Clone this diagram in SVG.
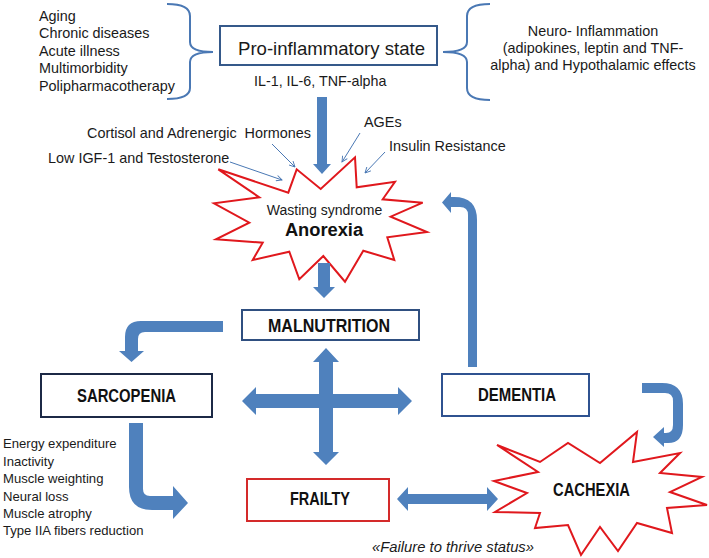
<svg xmlns="http://www.w3.org/2000/svg" width="709" height="558" viewBox="0 0 709 558">
<style>
.t{font-family:"Liberation Sans",Arial,sans-serif;fill:#1a1a1a}
.b{font-family:"Liberation Sans",Arial,sans-serif;font-weight:bold;fill:#111}
.box{fill:#fff;stroke-width:2}
.star{fill:#fff;stroke:#e0181d;stroke-width:2;stroke-linejoin:miter}
.fat{fill:#4f81bd}
.thin{fill:none;stroke:#4a78b4;stroke-width:1}
.brace{fill:none;stroke:#4a78b4;stroke-width:2}
</style>
<defs>
<marker id="ah" viewBox="0 0 10 10" refX="9" refY="5" markerWidth="7" markerHeight="7" orient="auto">
<path d="M1,1 L9,5 L1,9" fill="none" stroke="#4a78b4" stroke-width="1.3"/>
</marker>
</defs>
<rect width="709" height="558" fill="#fff"/>

<g id="causes">
<text class="t" font-size="14.4" x="39" y="20.5">Aging</text>
<text class="t" font-size="14.4" x="39" y="38">Chronic diseases</text>
<text class="t" font-size="14.4" x="39" y="55.5">Acute illness</text>
<text class="t" font-size="14.4" x="39" y="73">Multimorbidity</text>
<text class="t" font-size="14.4" x="39" y="90.5">Polipharmacotherapy</text>
</g>

<g id="pro-inflammatory">
<rect class="box" x="220" y="26" width="217" height="39" stroke="#35598a"/>
<text class="t" font-size="18.6" x="331.5" y="55" text-anchor="middle">Pro-inflammatory state</text>
<text class="t" font-size="14.3" x="254" y="86">IL-1, IL-6, TNF-alpha</text>
</g>

<g id="neuro">
<text class="t" font-size="14.4" x="593" y="35.5" text-anchor="middle">Neuro- Inflammation</text>
<text class="t" font-size="14.4" x="593" y="52.5" text-anchor="middle">(adipokines, leptin and TNF-</text>
<text class="t" font-size="14.4" x="593" y="69.5" text-anchor="middle">alpha) and Hypothalamic effects</text>
</g>

<g id="factors">
<text class="t" font-size="14.4" x="87" y="138" xml:space="preserve">Cortisol and Adrenergic  Hormones</text>
<text class="t" font-size="14.4" x="48" y="163">Low IGF-1 and Testosterone</text>
<text class="t" font-size="14.4" x="364" y="127">AGEs</text>
<text class="t" font-size="14.4" x="389" y="151">Insulin Resistance</text>
</g>

<g id="anorexia">
<polygon class="star" points="218.3,169.3 288.3,192.7 296.7,169.3 320.7,189 355,157.3 356.7,187.3 395,181.7 382.7,199.3 422.7,202.7 390.7,216.7 427,232 387.3,237.3 394.3,260 363.3,250.7 345,281.7 323.3,256 299.3,279.3 289.3,251.7 252.7,260 262.7,242.7 216,239.3 249.3,222.7 214,203.3 259.3,197.3"/>
<text class="t" font-size="14" x="324.5" y="215" text-anchor="middle">Wasting syndrome</text>
<text class="b" font-size="18.3" x="324" y="236" text-anchor="middle">Anorexia</text>
</g>

<g id="malnutrition">
<rect class="box" x="242" y="310" width="177" height="30" stroke="#2f4f80"/>
<text class="b" font-size="18" x="268" y="332" textLength="122" lengthAdjust="spacingAndGlyphs">MALNUTRITION</text>
</g>

<g id="sarcopenia">
<rect class="box" x="41" y="374" width="171" height="43" stroke="#1c2946"/>
<text class="b" font-size="18" x="77" y="402" textLength="99" lengthAdjust="spacingAndGlyphs">SARCOPENIA</text>
</g>

<g id="dementia">
<rect class="box" x="442" y="374" width="147" height="42" stroke="#2f5290"/>
<text class="b" font-size="18" x="478" y="401" textLength="78" lengthAdjust="spacingAndGlyphs">DEMENTIA</text>
</g>

<g id="frailty">
<rect class="box" x="247" y="479" width="142" height="42" stroke="#d42a2a"/>
<text class="b" font-size="18" x="290" y="505" textLength="60" lengthAdjust="spacingAndGlyphs">FRAILTY</text>
</g>

<g id="cachexia">
<polygon class="star" points="497,445 540,462 568,443 600,463 637,432 633,462 680,453 660,473 702,477 670,492 707,505 667,508 672,533 637,523 618,551 600,527 581,555 568,525 535,528 540,513 495,512 527,493 494,481 538,472"/>
<text class="b" font-size="18" x="553" y="496" textLength="77" lengthAdjust="spacingAndGlyphs">CACHEXIA</text>
</g>

<g id="sarcopenia-factors">
<text class="t" font-size="13.1" x="3" y="448">Energy expenditure</text>
<text class="t" font-size="13.1" x="3" y="466">Inactivity</text>
<text class="t" font-size="13.1" x="3" y="483">Muscle weighting</text>
<text class="t" font-size="13.1" x="3" y="501">Neural loss</text>
<text class="t" font-size="13.1" x="3" y="518">Muscle atrophy</text>
<text class="t" font-size="13.1" x="3" y="535">Type IIA fibers reduction</text>
</g>

<g id="failure-label">
<text class="t" font-size="15" font-style="italic" x="372" y="552" textLength="162" lengthAdjust="spacingAndGlyphs">«Failure to thrive status»</text>
</g>

<g id="connectors">
<path class="brace" d="M167,4 Q190,4 190,16 L190,42 Q190,52 213,52 Q190,52 190,62 L190,88 Q190,99 167,99"/>
<path class="brace" d="M490,4 Q467,4 467,16 L467,42 Q467,52 443,52 Q467,52 467,62 L467,88 Q467,100 490,100"/>
<line class="thin" x1="272" y1="144" x2="295" y2="167" marker-end="url(#ah)"/>
<line class="thin" x1="230" y1="162" x2="282" y2="180" marker-end="url(#ah)"/>
<line class="thin" x1="360" y1="133" x2="342" y2="162" marker-end="url(#ah)"/>
<line class="thin" x1="385" y1="152" x2="365" y2="173" marker-end="url(#ah)"/>
<path class="fat" d="M317,97 L327,97 L327,164 L331,164 L322,174 L313,164 L317,164 Z"/>
<path class="fat" d="M318,263 L330,263 L330,287 L335,287 L324,298 L313,287 L318,287 Z"/>
<path class="fat" d="M326,348 L339,362 L333,362 L333,394 L398,394 L398,387 L412,401 L398,415 L398,408 L333,408 L333,452 L339,452 L326,465 L313,452 L319,452 L319,408 L256,408 L256,415 L242,401 L256,387 L256,394 L319,394 L319,362 L313,362 Z"/>
<path class="fat" d="M223,321 L141,321 Q125,321 125,337 L125,351 L119,351 L131.5,362 L144,351 L138,351 L138,339 Q138,332 145,332 L223,332 Z"/>
<path class="fat" d="M129,423 L143,423 L143,489 Q143,496 150,496 L173,496 L173,486 L188,503 L173,519 L173,510 L152,510 Q129,510 129,487 Z"/>
<path class="fat" d="M468,367 L477,367 L477,220 Q477,197 454,197 L451,197 L451,192 L442,202.5 L451,213 L451,207 L460,207 Q468,207 468,215 Z"/>
<path class="fat" d="M642,383 L662,383 Q683,383 683,404 L683,425 Q683,443 668,443 L664,443 L664,447 L653,437 L664,427 L664,433 L666,433 Q673,433 673,425 L673,401 Q673,393 665,393 L642,393 Z"/>
<path class="fat" d="M397,499 L408,487 L408,494 L487,494 L487,487 L498,499 L487,511 L487,504 L408,504 L408,511 Z"/>
</g>
</svg>
